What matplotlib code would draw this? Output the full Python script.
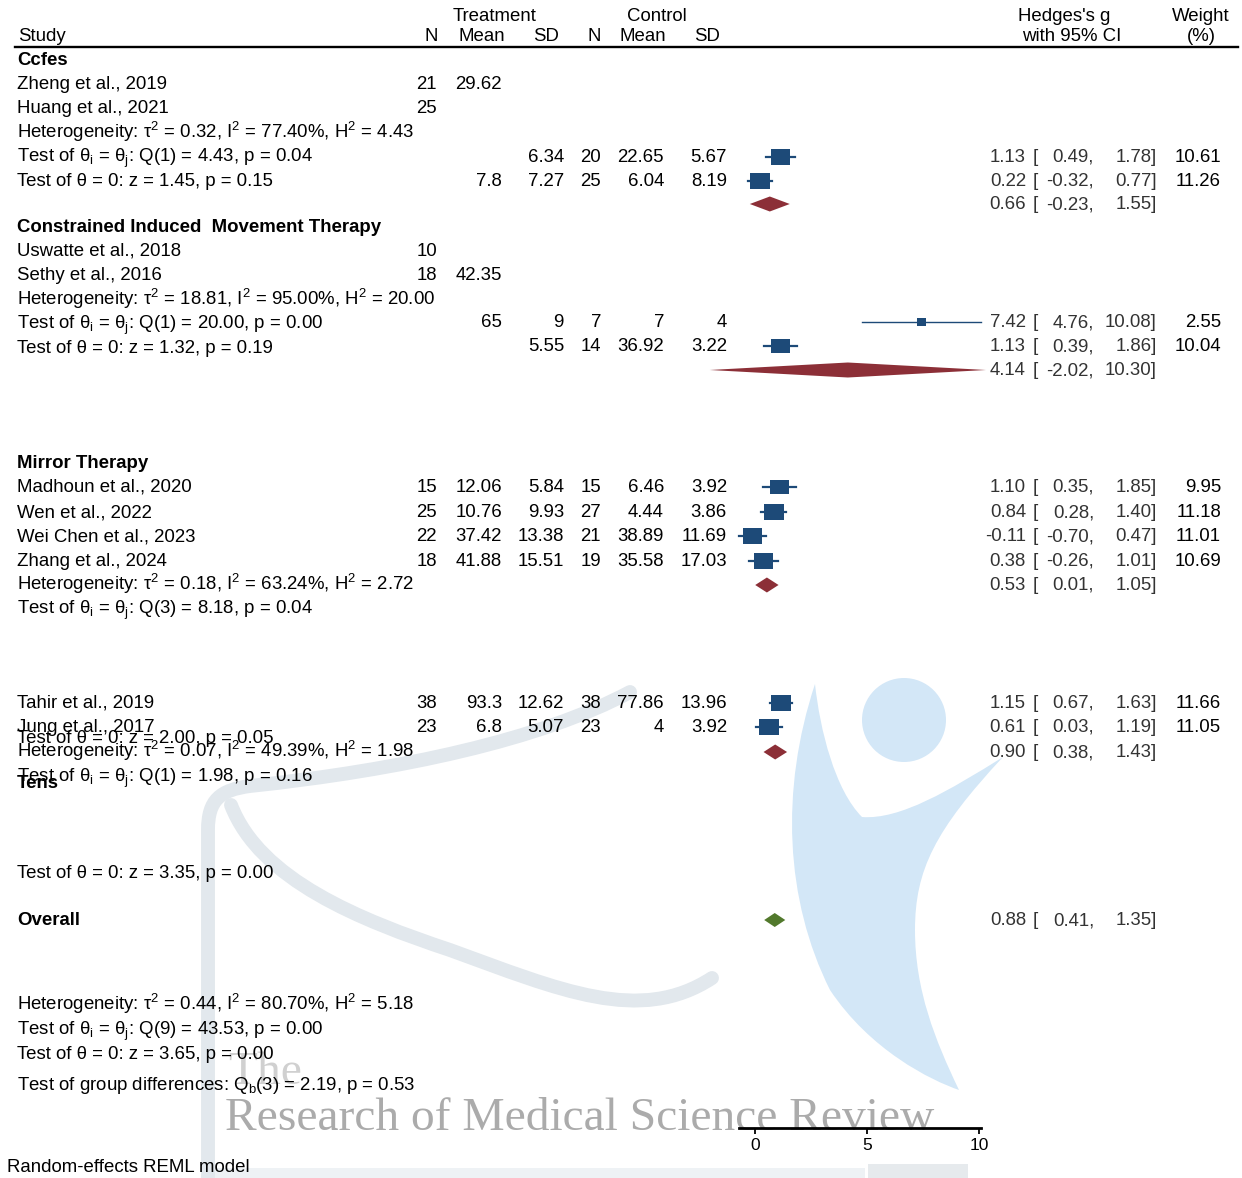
import numpy as np
import matplotlib
matplotlib.use("Agg")
import matplotlib.pyplot as plt
from matplotlib.patches import Rectangle, Polygon, Ellipse, PathPatch
from matplotlib.path import Path

plt.rcParams['font.family'] = ['Liberation Sans', 'DejaVu Sans']
plt.rcParams['mathtext.fontset'] = 'custom'
plt.rcParams['mathtext.rm'] = 'Liberation Sans'
plt.rcParams['mathtext.it'] = 'Liberation Sans:italic'
plt.rcParams['mathtext.bf'] = 'Liberation Sans:bold'

# ---------------- data ----------------
studies = ["Zheng et al., 2019", "Huang et al., 2021", "Uswatte et al., 2018",
           "Sethy et al., 2016", "Madhoun et al., 2020", "Wen et al., 2022",
           "Wei Chen et al., 2023", "Zhang et al., 2024", "Tahir et al., 2019",
           "Jung et al., 2017"]
n_t = [21, 25, 10, 18, 15, 25, 22, 18, 38, 23]
mean_t = [29.62, 7.8, 65, 42.35, 12.06, 10.76, 37.42, 41.88, 93.3, 6.8]
sd_t = [6.34, 7.27, 9, 5.55, 5.84, 9.93, 13.38, 15.51, 12.62, 5.07]
n_c = [20, 25, 7, 14, 15, 27, 21, 19, 38, 23]
mean_c = [22.65, 6.04, 7, 36.92, 6.46, 4.44, 38.89, 35.58, 77.86, 4]
sd_c = [5.67, 8.19, 4, 3.22, 3.92, 3.86, 11.69, 17.03, 13.96, 3.92]
g_est = [1.13, 0.22, 7.42, 1.13, 1.10, 0.84, -0.11, 0.38, 1.15, 0.61]
g_lo = [0.49, -0.32, 4.76, 0.39, 0.35, 0.28, -0.70, -0.26, 0.67, 0.03]
g_hi = [1.78, 0.77, 10.08, 1.86, 1.85, 1.40, 0.47, 1.01, 1.63, 1.19]
weights = [10.61, 11.26, 2.55, 10.04, 9.95, 11.18, 11.01, 10.69, 11.66, 11.05]

groups = ["Ccfes", "Constrained Induced  Movement Therapy", "Mirror Therapy", "Tens"]
grp_est = [0.66, 4.14, 0.53, 0.90]
grp_lo = [-0.23, -2.02, 0.01, 0.38]
grp_hi = [1.55, 10.30, 1.05, 1.43]
grp_tau2 = [0.32, 18.81, 0.18, 0.07]
grp_i2 = [77.40, 95.00, 63.24, 49.39]
grp_h2 = [4.43, 20.00, 2.72, 1.98]
grp_qdf = [1, 1, 3, 1]
grp_q = [4.43, 20.00, 8.18, 1.98]
grp_qp = [0.04, 0.00, 0.04, 0.16]
grp_z = [1.45, 1.32, 2.00, 3.35]
grp_zp = [0.15, 0.19, 0.05, 0.00]

overall_est, overall_lo, overall_hi = 0.88, 0.41, 1.35
overall_tau2, overall_i2, overall_h2 = 0.44, 80.70, 5.18
overall_qdf, overall_q, overall_qp = 9, 43.53, 0.00
overall_z, overall_zp = 3.65, 0.00
qb_df, qb, qb_p = 3, 2.19, 0.53
x_ticks = [0, 5, 10]

# ---------------- layout (pixel rows) ----------------
W, H = 1242, 1178
name_y = [84, 108, 251, 275, 487, 512, 536, 561, 703, 727]
mean1_y = [84, 181, 322, 275, 487, 512, 536, 561, 703, 727]
stat_y = [157, 181, 322, 346, 487, 512, 536, 561, 703, 727]
head_y = [60, 227, 463, 783]
het_y = [133, 300, 585, 752]
q_y = [157, 324, 609, 777]
z_y = [181, 348, 738, 873]
dia_y = [204, 370, 585, 752]

FS = 13.4
NAVY = '#1d4a78'
RED = '#8c2f37'
GREEN = '#52792c'
CI_COL = '#333333'

fig = plt.figure(figsize=(W / 100, H / 100), dpi=100)
bg = fig.add_axes([0, 0, 1, 1])
bg.set_xlim(0, W)
bg.set_ylim(H, 0)
bg.axis('off')

# ---------------- watermark ----------------
wm_grey = '#e2e8ed'
p1 = Path([(208, 1178), (208, 830),
           (208, 800), (220, 790), (250, 786),
           (400, 770), (540, 740), (630, 692)],
          [Path.MOVETO, Path.LINETO, Path.CURVE4, Path.CURVE4, Path.CURVE4,
           Path.CURVE4, Path.CURVE4, Path.CURVE4])
bg.add_patch(PathPatch(p1, fill=False, lw=10, edgecolor=wm_grey, capstyle='round', zorder=0))
p2 = Path([(231, 805),
           (260, 880), (360, 920), (450, 950),
           (560, 990), (640, 1025), (712, 978)],
          [Path.MOVETO, Path.CURVE4, Path.CURVE4, Path.CURVE4,
           Path.CURVE4, Path.CURVE4, Path.CURVE4])
bg.add_patch(PathPatch(p2, fill=False, lw=10, edgecolor=wm_grey, capstyle='round', zorder=0))
bg.add_patch(Rectangle((215, 1168), 650, 10, color='#eef2f5', lw=0, zorder=0))
bg.add_patch(Rectangle((868, 1164), 100, 14, color='#e6eaed', lw=0, zorder=0))
bg.add_patch(Ellipse((904, 720), 84, 84, color='#d3e7f7', lw=0, zorder=0))
sw = Path([(815, 684),
           (780, 790), (785, 900), (830, 990),
           (870, 1050), (930, 1080), (959, 1090),
           (935, 1040), (915, 990), (915, 930),
           (915, 870), (935, 830), (1003, 757),
           (950, 790), (900, 820), (862, 817),
           (835, 790), (820, 730), (815, 684)],
          [Path.MOVETO] + [Path.CURVE4] * 18)
bg.add_patch(PathPatch(sw, facecolor='#d3e7f7', lw=0, zorder=0))
bg.text(228, 1084, "The", family='Liberation Serif', fontsize=34.2,
        color='#d0d0d0', va='baseline', zorder=0)
bg.text(225, 1130, "Research of Medical Science Review", family='Liberation Serif',
        fontsize=34.2, color='#ababab', va='baseline', zorder=0)


def txt(x, y, s, ha='left', color='black', **kw):
    bg.text(x, y + 5, s, ha=ha, va='baseline', fontsize=FS, color=color, zorder=3, **kw)


def fmt(v):
    return f"{v:g}"


def ci_text(y, est, lo, hi):
    txt(1026, y, f"{est:.2f}", ha='right', color=CI_COL)
    txt(1033, y, "[", color=CI_COL)
    txt(1094, y, f"{lo:.2f},", ha='right', color=CI_COL)
    txt(1157, y, f"{hi:.2f}]", ha='right', color=CI_COL)


# ---------------- header ----------------
txt(495, 16, "Treatment", ha='center')
txt(657, 16, "Control", ha='center')
txt(1064, 16, "Hedges's g", ha='center')
txt(1201, 16, "Weight", ha='center')
txt(18, 36, "Study")
txt(431, 36, "N", ha='center')
txt(482, 36, "Mean", ha='center')
txt(546, 36, "SD", ha='center')
txt(594, 36, "N", ha='center')
txt(643, 36, "Mean", ha='center')
txt(707, 36, "SD", ha='center')
txt(1072, 36, "with 95% CI", ha='center')
txt(1201, 36, "(%)", ha='center')
bg.plot([15, 1238], [47, 47], color='black', lw=1.7, zorder=3)

# ---------------- study rows ----------------
for i, s in enumerate(studies):
    txt(17, name_y[i], s)
    txt(437, name_y[i], fmt(n_t[i]), ha='right')
    txt(502, mean1_y[i], fmt(mean_t[i]), ha='right')
    txt(564, stat_y[i], fmt(sd_t[i]), ha='right')
    txt(601, stat_y[i], fmt(n_c[i]), ha='right')
    txt(664, stat_y[i], fmt(mean_c[i]), ha='right')
    txt(727, stat_y[i], fmt(sd_c[i]), ha='right')
    ci_text(stat_y[i], g_est[i], g_lo[i], g_hi[i])
    txt(1221, stat_y[i], f"{weights[i]:.2f}", ha='right')

for k, gname in enumerate(groups):
    txt(17, head_y[k], gname, fontweight='bold')
    txt(17, het_y[k], rf"Heterogeneity: τ$^\mathrm{{2}}$ = {grp_tau2[k]:.2f}, "
                      rf"I$^\mathrm{{2}}$ = {grp_i2[k]:.2f}%, H$^\mathrm{{2}}$ = {grp_h2[k]:.2f}")
    txt(17, q_y[k], rf"Test of θ$_\mathrm{{i}}$ = θ$_\mathrm{{j}}$: Q({grp_qdf[k]}) = "
                    rf"{grp_q[k]:.2f}, p = {grp_qp[k]:.2f}")
    txt(17, z_y[k], f"Test of θ = 0: z = {grp_z[k]:.2f}, p = {grp_zp[k]:.2f}")
    ci_text(dia_y[k], grp_est[k], grp_lo[k], grp_hi[k])

OV_Y = 920
txt(17, OV_Y, "Overall", fontweight='bold')
ci_text(OV_Y, overall_est, overall_lo, overall_hi)
txt(17, 1005, rf"Heterogeneity: τ$^\mathrm{{2}}$ = {overall_tau2:.2f}, "
              rf"I$^\mathrm{{2}}$ = {overall_i2:.2f}%, H$^\mathrm{{2}}$ = {overall_h2:.2f}")
txt(17, 1030, rf"Test of θ$_\mathrm{{i}}$ = θ$_\mathrm{{j}}$: Q({overall_qdf}) = "
              rf"{overall_q:.2f}, p = {overall_qp:.2f}")
txt(17, 1054, f"Test of θ = 0: z = {overall_z:.2f}, p = {overall_zp:.2f}")
txt(17, 1085, rf"Test of group differences: Q$_\mathrm{{b}}$({qb_df}) = {qb:.2f}, p = {qb_p:.2f}")
txt(7, 1167, "Random-effects REML model")

# ---------------- forest panel ----------------
PX = 22.43          # pixels per unit of Hedges's g
X0PX = 755          # pixel position of g = 0
AX_L, AX_R, AX_B = 700, 1000, 1128
fa = fig.add_axes([AX_L / W, (H - AX_B) / H, (AX_R - AX_L) / W, AX_B / H])
fa.set_xlim((AX_L - X0PX) / PX, (AX_R - X0PX) / PX)
fa.set_ylim(AX_B, 0)
fa.patch.set_alpha(0)
for sp in ['top', 'left', 'right']:
    fa.spines[sp].set_visible(False)
fa.spines['bottom'].set_linewidth(2)
fa.spines['bottom'].set_bounds(min(g_lo), max(g_hi))
fa.set_yticks([])
fa.set_xticks(x_ticks)
fa.set_xticklabels([str(t) for t in x_ticks])
fa.tick_params(axis='x', length=4, width=1.3, labelsize=12.5, pad=3)

for i in range(len(studies)):
    y = stat_y[i]
    lw = 1.0 if weights[i] < 5 else 1.6
    fa.plot([g_lo[i], g_hi[i]], [y, y], color=NAVY, lw=lw, zorder=2)
    wpx = 6.0 * np.sqrt(weights[i])
    hpx = 4.7 * np.sqrt(weights[i])
    fa.add_patch(Rectangle((g_est[i] - wpx / PX / 2, y - hpx / 2), wpx / PX, hpx,
                           facecolor=NAVY, edgecolor='none', zorder=3))

for k in range(len(groups)):
    y = dia_y[k]
    fa.add_patch(Polygon([(grp_lo[k], y), (grp_est[k], y - 7.5), (grp_hi[k], y),
                          (grp_est[k], y + 7.5)], closed=True, facecolor=RED,
                         edgecolor='none', zorder=3))

fa.add_patch(Polygon([(overall_lo, OV_Y), (overall_est, OV_Y - 7), (overall_hi, OV_Y),
                      (overall_est, OV_Y + 7)], closed=True, facecolor=GREEN,
                     edgecolor='none', zorder=3))

fig.savefig("out.png", dpi=100)
